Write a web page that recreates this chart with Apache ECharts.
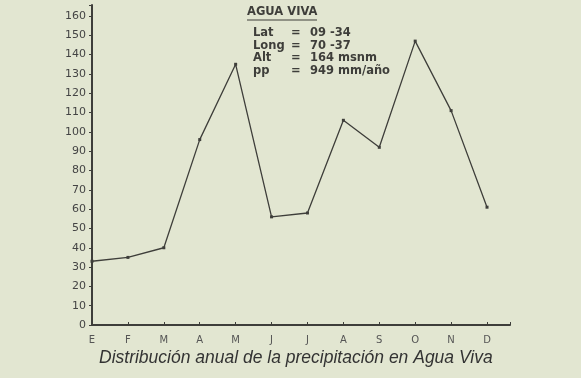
<!DOCTYPE html>
<html>
<head>
<meta charset="utf-8">
<script src="https://cdn.jsdelivr.net/npm/echarts@6/dist/echarts.min.js"></script>
<style>
  html, body { margin: 0; padding: 0; background: #e2e6d1; }
  #chart { width: 581px; height: 378px; }
</style>
</head>
<body>
<div id="chart"></div>
<script>
const months = ["E", "F", "M", "A", "M", "J", "J", "A", "S", "O", "N", "D"];
const precipitation = [33, 35, 40, 96, 135, 56, 58, 106, 92, 147, 111, 61];
const infoLabels = ["Lat", "Long", "Alt", "pp"];
const infoValues = ["09 -34", "70 -37", "164 msnm", "949 mm/año"];

const ink = "#3e3e3a";
const chart = echarts.init(document.getElementById("chart"));

const infoText = infoLabels.map((label, i) => ({
  type: "group",
  left: 253,
  top: 27 + i * 12.7,
  children: [
    { type: "text", x: 0, style: { text: label, font: "bold 11.5px 'DejaVu Sans'", fill: ink } },
    { type: "text", x: 38, style: { text: "=", font: "bold 11.5px 'DejaVu Sans'", fill: ink } },
    { type: "text", x: 57, style: { text: infoValues[i], font: "bold 11.5px 'DejaVu Sans'", fill: ink } },
  ],
}));

chart.setOption({
  backgroundColor: "#e2e6d1",
  animation: false,
  grid: { left: 92, right: 71, top: 5, bottom: 53 },
  xAxis: {
    type: "value",
    min: 0,
    max: 11.64,
    interval: 1,
    splitLine: { show: false },
    axisLine: { lineStyle: { color: ink, width: 2 } },
    axisTick: { inside: true, length: 3, lineStyle: { color: ink } },
    axisLabel: {
      color: "#555",
      fontFamily: "DejaVu Sans",
      fontSize: 10,
      margin: 10,
      formatter: (v) => (Number.isInteger(v) ? months[v] || "" : ""),
    },
  },
  yAxis: {
    type: "value",
    min: 0,
    max: 165.7,
    interval: 10,
    splitLine: { show: false },
    axisLine: { show: true, lineStyle: { color: ink, width: 2 } },
    axisTick: { show: true, length: 3, lineStyle: { color: ink } },
    axisLabel: {
      color: "#444",
      fontFamily: "DejaVu Sans",
      fontSize: 11,
      margin: 6,
      formatter: (v) => (v <= 160 ? String(v) : ""),
    },
  },
  series: [
    {
      type: "line",
      data: precipitation.map((v, i) => [i, v]),
      symbol: "rect",
      symbolSize: 3,
      lineStyle: { color: ink, width: 1.3 },
      itemStyle: { color: ink },
    },
  ],
  graphic: [
    {
      type: "text",
      left: 247,
      top: 6,
      style: { text: "AGUA VIVA", font: "bold 11.5px 'DejaVu Sans'", fill: ink },
    },
    {
      type: "line",
      shape: { x1: 247, y1: 20, x2: 317, y2: 20 },
      style: { stroke: ink, lineWidth: 1 },
    },
    ...infoText,
    {
      type: "text",
      left: 99,
      top: 349,
      style: {
        text: "Distribución anual de la precipitación en Agua Viva",
        font: "italic 17.5px 'Liberation Sans'",
        fill: "#333",
      },
    },
  ],
});
</script>
</body>
</html>
